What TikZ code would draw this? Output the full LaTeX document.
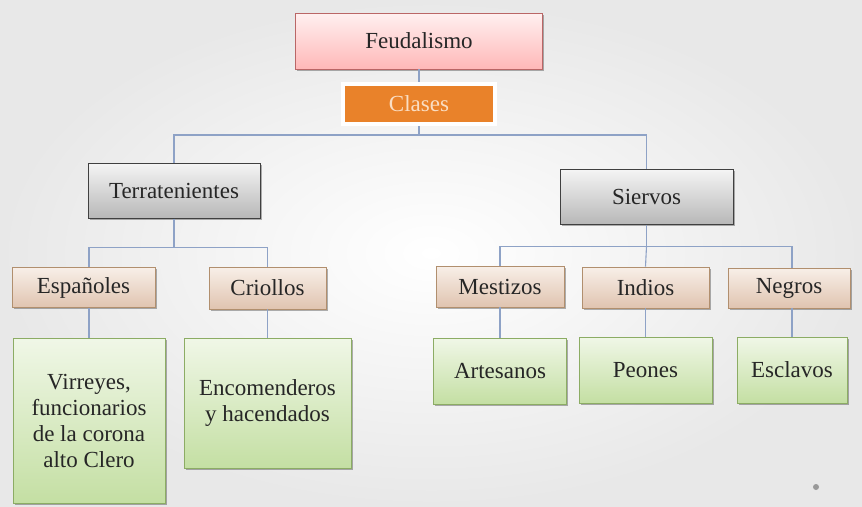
\documentclass[tikz,border=0pt]{standalone}
\usepackage{fontspec}
\setmainfont{Liberation Serif}
\newfontfamily\boxfont{Liberation Serif}
\usetikzlibrary{shadows}
\definecolor{linec}{HTML}{8EA2C6}
\tikzset{
  box/.style={rectangle, align=center, font=\boxfont\fontsize{23}{26}\selectfont, text=black!85,
    drop shadow={shadow xshift=1.5pt, shadow yshift=-1.8pt, opacity=0.3, fill=black}},
  pinkbox/.style={box, draw=black!45!red!60!white, line width=0.8pt, top color=red!6, bottom color=red!28},
  clasbox/.style={box, draw=white, line width=4pt, fill={rgb,255:red,233;green,130;blue,42}, text={rgb,255:red,250;green,222;blue,196}},
  graybox/.style={box, draw=black!75, line width=1pt, top color=black!4, bottom color=black!28},
  tanbox/.style={box, draw=black!25!brown!70, line width=0.8pt, top color={rgb,255:red,248;green,239;blue,232}, bottom color={rgb,255:red,224;green,196;blue,176}},
  greenbox/.style={box, draw={rgb,255:red,140;green,172;blue,100}, line width=0.8pt, top color={rgb,255:red,240;green,247;blue,231}, bottom color={rgb,255:red,196;green,223;blue,163}},
  conn/.style={draw=linec, line width=1.1pt}
}
\begin{document}
\begin{tikzpicture}[x=1pt,y=1pt]
\useasboundingbox (0,0) rectangle (862,-506);
\shade[inner color=white, outer color=black!9] (0,0) rectangle (862,-506);
\node[pinkbox, minimum width=247pt, minimum height=56pt] (feu) at (419,-41) {Feudalismo};
\node[clasbox, minimum width=152pt, minimum height=40pt] (cla) at (419,-104) {Clases};
\node[graybox, minimum width=172pt, minimum height=55pt] (ter) at (174,-190.5) {Terratenientes};
\node[graybox, minimum width=173pt, minimum height=55pt] (sie) at (646.5,-196.5) {Siervos};
\node[tanbox, minimum width=143pt, minimum height=40pt] (esp) at (83.5,-287.5) {Españoles};
\node[tanbox, minimum width=117pt, minimum height=42pt] (cri) at (267.5,-288) {Criollos};
\node[tanbox, minimum width=128pt, minimum height=41pt] (mes) at (500,-286.5) {Mestizos};
\node[tanbox, minimum width=127pt, minimum height=41pt] (ind) at (645.5,-287.5) {Indios};
\node[tanbox, minimum width=122pt, minimum height=40pt] (neg) at (789,-288) {Negros};
\node[greenbox, minimum width=152pt, minimum height=165pt] (vir) at (89,-420.5) {Virreyes,\\funcionarios\\de la corona\\alto Clero};
\node[greenbox, minimum width=167pt, minimum height=130pt] (enc) at (267.5,-403) {Encomenderos\\y hacendados};
\node[greenbox, minimum width=133pt, minimum height=66pt] (art) at (500,-371) {Artesanos};
\node[greenbox, minimum width=133pt, minimum height=66pt] (peo) at (645.5,-370) {Peones};
\node[greenbox, minimum width=110pt, minimum height=66pt] (esc) at (792,-370) {Esclavos};
\fill[black!40] (816,-487) circle (3pt);
% connectors
\draw[conn] (feu.south) -- (cla.north);
\draw[conn] (cla.south) -- ++(0,-9) coordinate (b0);
\draw[conn] (ter.north) |- (b0) -| (sie.north);
\draw[conn] (ter.south) -- ++(0,-29) coordinate (b1);
\draw[conn] (vir.north |- esp.north) |- (b1) -| (cri.north);
\draw[conn] (sie.south) -- ++(0,-22) coordinate (b2);
\draw[conn] (mes.north) |- (b2) -| (esc.north |- neg.north);
\draw[conn] (b2) -- (ind.north);
\draw[conn] (esp.south -| vir.north) -- (vir.north);
\draw[conn] (cri.south) -- (enc.north);
\draw[conn] (mes.south) -- (art.north);
\draw[conn] (ind.south) -- (peo.north);
\draw[conn] (neg.south -| esc.north) -- (esc.north);
\end{tikzpicture}
\end{document}
